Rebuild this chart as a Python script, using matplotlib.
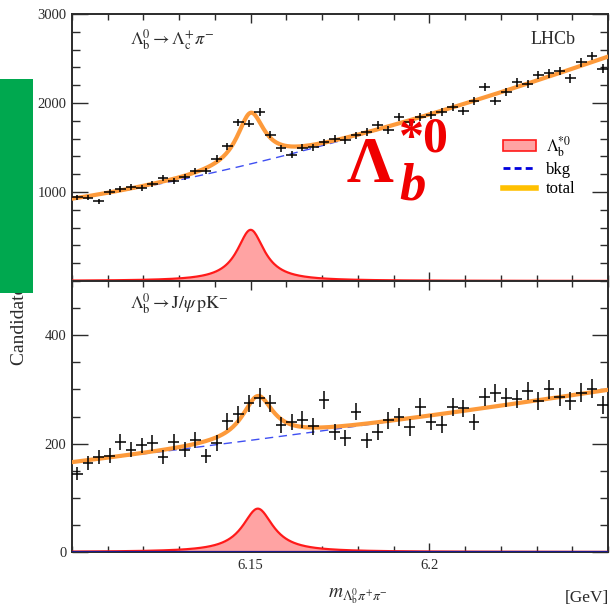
import matplotlib
matplotlib.use("Agg")
import matplotlib.pyplot as plt
import numpy as np
from matplotlib.lines import Line2D
from matplotlib.patches import Patch, Rectangle
from matplotlib.ticker import FixedLocator, MultipleLocator, FuncFormatter

plt.rcParams["font.family"] = ["Liberation Serif", "DejaVu Serif"]
plt.rcParams["mathtext.fontset"] = "stix"

# binning: 50 bins of 3 MeV between 6.10 and 6.25 GeV
x_lo, x_hi, bin_w = 6.10, 6.25, 0.003

# Lb0 -> Lc+ pi- sample, candidates per bin
counts_lc = [940, 936, 895, 997, 1034, 1056, 1041, 1086, 1161, 1124,
             1169, 1236, 1240, 1374, 1513, 1783, 1768, 1899, 1644, 1491,
             1419, 1500, 1505, 1558, 1600, 1584, 1638, 1675, 1751, 1695,
             1846, 1781, 1842, 1862, 1902, 1951, 1910, 2022, 2180, 2022,
             2124, 2232, 2210, 2315, 2333, 2360, 2277, 2458, 2528, 2385]

# Lb0 -> J/psi p K- sample, candidates per bin
counts_jpsi = [144, 164, 175, 178, 203, 189, 197, 201, 175, 203,
               189, 207, 177, 201, 241, 254, 274, 285, 274, 234,
               240, 244, 232, 280, 222, 211, 259, 206, 222, 243,
               249, 230, 267, 240, 235, 267, 265, 240, 286, 293,
               285, 282, 297, 278, 300, 286, 278, 294, 301, 272]

# fit results: Breit-Wigner signal (mass, width, peak height per bin)
# and background polynomial in u = (m - 6.175) / 0.075
sig_lc = dict(mass=6.150, width=0.0093, peak=575.0)
bkg_lc = [1575.0, 830.0, 145.0, -30.0]
sig_jpsi = dict(mass=6.152, width=0.0105, peak=80.0)
bkg_jpsi = [228.0, 67.0, 4.0]

C_TOTAL = "#fd9a3b"
C_BKG = "#3f4ff2"
C_SIG = "#ff1a1a"
C_FILL = "#ffa3a3"
INK = "#2b2b2b"


def breit_wigner(m, mass, width, peak):
    return peak / (1.0 + ((m - mass) / (0.5 * width)) ** 2)


def background(m, coeffs):
    u = (m - 6.175) / 0.075
    return np.polynomial.polynomial.polyval(u, coeffs)


def style_axes(ax, ymax, ymajor, yminor, show_zero):
    ax.set_xlim(x_lo, x_hi)
    ax.set_ylim(0, ymax)
    ax.xaxis.set_major_locator(FixedLocator([6.15, 6.20]))
    ax.xaxis.set_minor_locator(MultipleLocator(0.01))
    ax.yaxis.set_major_locator(MultipleLocator(ymajor))
    ax.yaxis.set_minor_locator(MultipleLocator(yminor))
    ax.yaxis.set_major_formatter(FuncFormatter(
        lambda v, p: "" if (v == 0 and not show_zero) else "%d" % v))
    ax.tick_params(which="both", direction="in", top=True, right=True,
                   colors=INK, labelcolor=INK, labelsize=10.5, width=1.0)
    ax.tick_params(axis="y", which="major", length=11.5, pad=4)
    ax.tick_params(axis="y", which="minor", length=6.0)
    ax.tick_params(axis="x", which="major", length=6.5, pad=5)
    ax.tick_params(axis="x", which="minor", length=4.5)
    for s in ax.spines.values():
        s.set_linewidth(1.4)
        s.set_color(INK)


def draw_panel(ax, counts, sig, bkg_coeffs):
    counts = np.asarray(counts, dtype=float)
    centers = x_lo + bin_w * (np.arange(len(counts)) + 0.5)
    m = np.linspace(x_lo, x_hi, 600)
    s = breit_wigner(m, **sig)
    b = background(m, bkg_coeffs)

    ax.fill_between(m, 0, s, color=C_FILL, lw=0, zorder=2)
    ax.plot(m, s, color=C_SIG, lw=1.6, zorder=3)
    ax.plot(m, b, color=C_BKG, lw=1.0, dashes=(6, 4), zorder=3)
    ax.plot(m, s + b, color=C_TOTAL, lw=3.0, zorder=4)
    ax.errorbar(centers, counts, xerr=0.5 * bin_w, yerr=np.sqrt(counts),
                fmt="none", ecolor="black", elinewidth=1.1, capsize=0, zorder=5)


fig = plt.figure(figsize=(6.10, 6.09), dpi=100)
left, width = 72 / 610, 536 / 610
ax1 = fig.add_axes([left, 1 - 281 / 609, width, 267 / 609])
ax2 = fig.add_axes([left, 1 - 552 / 609, width, 271 / 609])

draw_panel(ax1, counts_lc, sig_lc, bkg_lc)
draw_panel(ax2, counts_jpsi, sig_jpsi, bkg_jpsi)
ax2.axhline(0, color="#1a1a8c", lw=1.6, zorder=4)

style_axes(ax1, 3000, 1000, 200, show_zero=False)
style_axes(ax2, 500, 200, 50, show_zero=True)
ax1.tick_params(axis="x", labelbottom=False)
ax2.xaxis.set_major_formatter(FuncFormatter(lambda v, p: "%g" % round(v, 2)))

fig.text(130 / 610, 1 - 45 / 609,
         r"$\Lambda_{\rm b}^{0}\rightarrow\Lambda_{\rm c}^{+}\pi^{-}$",
         fontsize=13, color=INK, ha="left", va="baseline")
ax1.text(0.855, 0.905, "LHCb", transform=ax1.transAxes, fontsize=13,
         color=INK, ha="left", va="center")
fig.text(130 / 610, 1 - 309 / 609,
         r"$\Lambda_{\rm b}^{0}\rightarrow {\rm J}/\psi\,{\rm pK}^{-}$",
         fontsize=13, color=INK, ha="left", va="baseline")

handles = [Patch(facecolor=C_FILL, edgecolor=C_SIG, lw=1.2),
           Line2D([], [], color="#0000dd", lw=2.0, dashes=(2.5, 1.5)),
           Line2D([], [], color="#ffc000", lw=4.0)]
labels = [r"$\Lambda_{\rm b}^{*0}$", "bkg", "total"]
ax1.legend(handles, labels, loc="upper left", frameon=False, fontsize=12,
           bbox_to_anchor=(503 / 610, 1 - 134 / 609),
           bbox_transform=fig.transFigure, handlelength=2.0,
           handletextpad=0.6, labelspacing=0.2, borderpad=0, borderaxespad=0)

fig.text(328 / 610, 1 - 598 / 609,
         r"$m_{\Lambda_{\rm b}^{0}\pi^{+}\pi^{-}}$", fontsize=14, color=INK,
         ha="left", va="baseline")
fig.text(609 / 610, 1 - 602 / 609, "[GeV]", fontsize=12.5, color=INK,
         ha="right", va="baseline")
fig.text(19 / 610, 1 - 280 / 609, "Candidates / (3 MeV)", rotation=90,
         fontsize=14, color=INK, ha="center", va="center")

# green box over the left side of the y title
fig.add_artist(Rectangle((0, 1 - 293 / 609), 33 / 610, 214 / 609,
                         transform=fig.transFigure, facecolor="#00a84f",
                         edgecolor="none", zorder=20))

# big red label for the new state
red = "#f00000"
fig.text(347 / 610, 1 - 182 / 609, "\u039b", fontsize=47, fontweight="bold",
         color=red, ha="left", va="baseline", zorder=21)
fig.text(399 / 610, 1 - 200 / 609, "b", fontsize=38, fontweight="bold",
         fontstyle="italic", color=red, ha="left", va="baseline", zorder=21)
fig.text(399 / 610, 1 - 152 / 609, "*0", fontsize=36, fontweight="bold",
         color=red, ha="left", va="baseline", zorder=21)

fig.savefig("out.png", dpi=100)
